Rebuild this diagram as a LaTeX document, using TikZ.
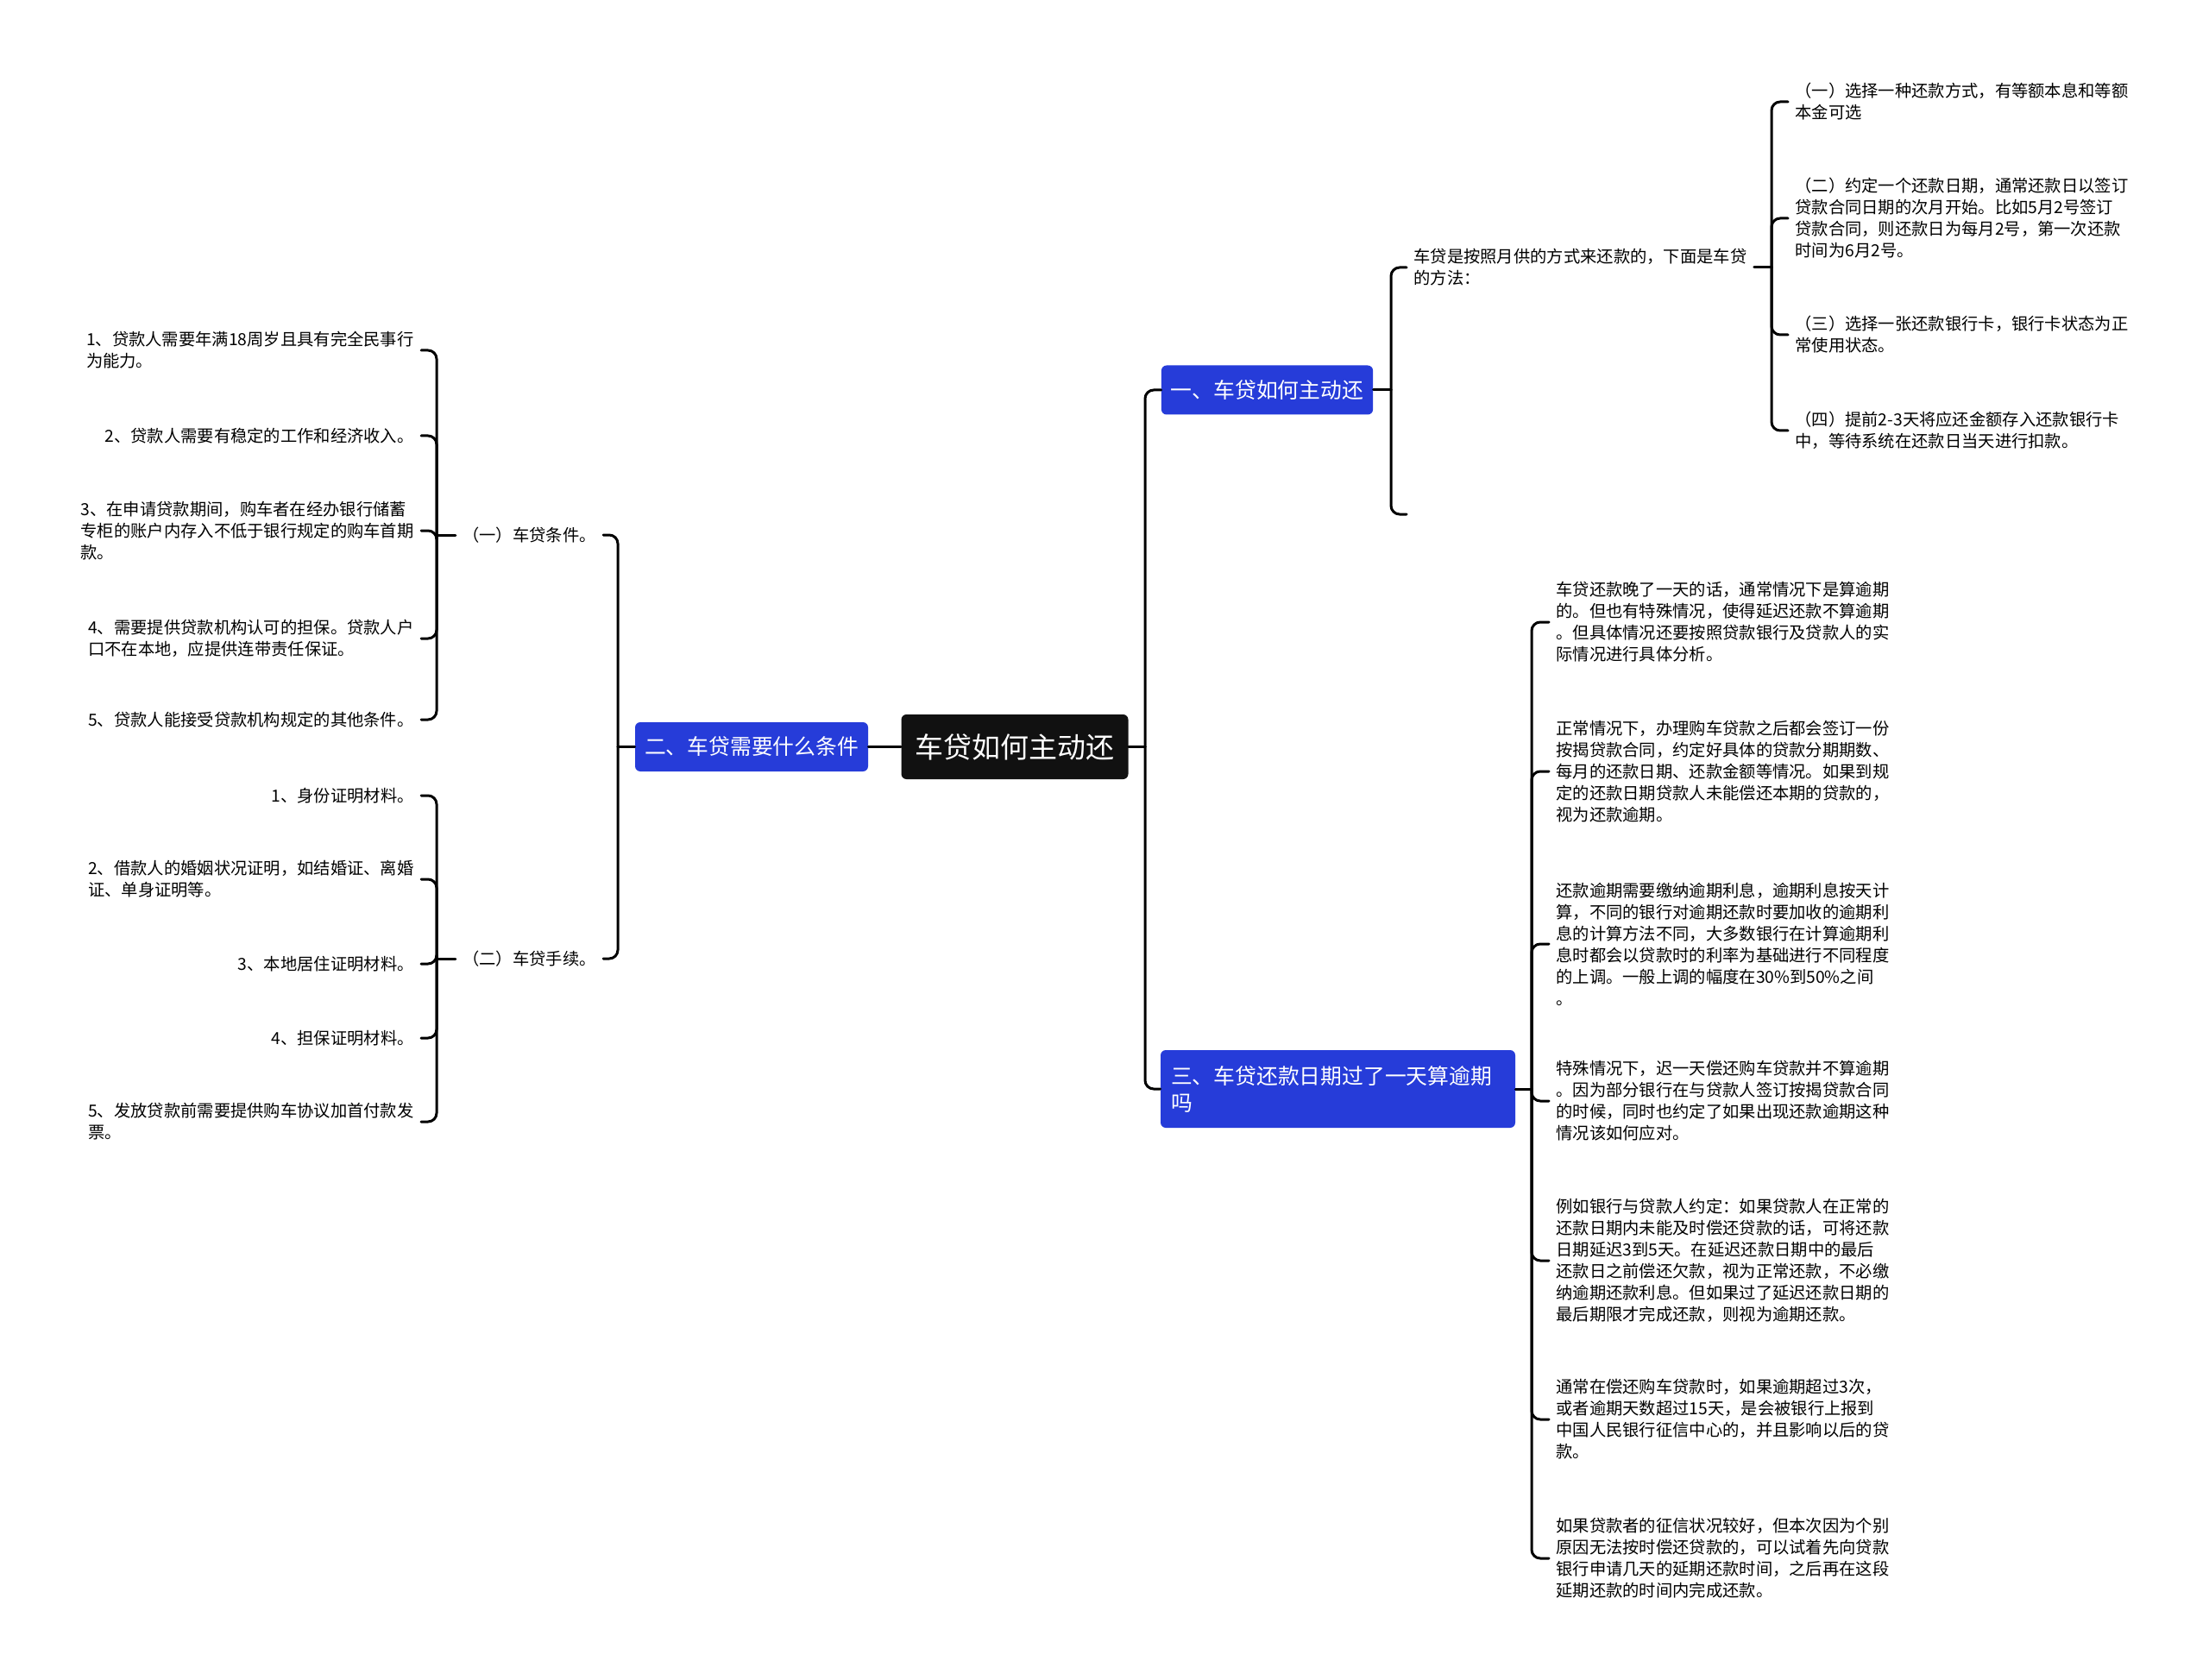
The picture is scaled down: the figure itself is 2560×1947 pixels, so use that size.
\documentclass[tikz,border=0pt]{standalone}
\usepackage{fontspec}
\newfontfamily\cjk{Noto Sans CJK SC}
\usetikzlibrary{positioning}
\usepackage{xcolor}
\definecolor{mapblue}{RGB}{38,60,217}
\definecolor{mapblack}{RGB}{17,17,17}
\tikzset{
  rootbox/.style={fill=mapblack, text=white, rounded corners=3pt, minimum height=37.5pt,
    inner xsep=8pt, font=\cjk\fontsize{16.5pt}{20pt}\selectfont},
  topicbox/.style={fill=mapblue, text=white, rounded corners=3pt, minimum height=28.5pt,
    inner xsep=5.5pt, font=\cjk\fontsize{12.4pt}{15.5pt}\selectfont},
  leaf/.style={align=left, inner xsep=4pt, inner ysep=2pt, font=\cjk\fontsize{9.65pt}{12.5pt}\selectfont},
  wire/.style={line width=1.5pt, line cap=round},
  elbow/.style={wire, rounded corners=5pt},
}

\begin{document}
\begin{tikzpicture}[x=0.5pt, y=-0.5pt]
  \fill[white] (0,0) rectangle (2560,1947);
  \useasboundingbox (0,0) rectangle (2560,1947);

  % centro e os tres ramos (coordenadas em pixels da imagem)
  \node[rootbox] (root) at (1176,865.5) {车贷如何主动还};
  \node[topicbox] (b1) at (1468.5,452) {一、车贷如何主动还};
  \node[topicbox] (b2) at (871,865.5) {二、车贷需要什么条件};
  \node[topicbox, text width=193.5pt, inner xsep=6pt, minimum height=45pt, align=left]
    (b3) at (1550.5,1262) {三、车贷还款日期过了一天算逾期\\吗};

  \coordinate (j0) at (1327,865.5);
  \draw[wire] (root.east) -- (j0);
  \draw[elbow] (j0) |- (b1.west);
  \draw[elbow] (j0) |- (b3.west);
  \draw[wire] (root.west) -- (b2.east);

  % ramo 1
  \coordinate (j1) at (1612,452);
  \coordinate (s1e) at (1630,596);
  \node[leaf, anchor=west] (s1) at (1630,310) {车贷是按照月供的方式来还款的，下面是车贷\\的方法：};
  \draw[wire] (b1.east) -- (j1);
  \draw[elbow] (j1) |- (s1.west);
  \draw[elbow] (j1) |- (s1e);
  \coordinate (j2) at (2053,310);
  \draw[wire] (s1.east) -- (j2);
  \foreach \yy/\nm/\txt in {
    118/c1/{（一）选择一种还款方式，有等额本息和等额\\本金可选},
    253/c2/{（二）约定一个还款日期，通常还款日以签订\\贷款合同日期的次月开始。比如5月2号签订\\贷款合同，则还款日为每月2号，第一次还款\\时间为6月2号。},
    388/c3/{（三）选择一张还款银行卡，银行卡状态为正\\常使用状态。},
    499/c4/{（四）提前2-3天将应还金额存入还款银行卡\\中，等待系统在还款日当天进行扣款。}}
  { \node[leaf, anchor=west] (\nm) at (2072,\yy) {\txt};
    \draw[elbow] (j2) |- (\nm.west); }

  % ramo 3
  \coordinate (j3) at (1775,1262);
  \draw[wire] (b3.east) -- (j3);
  \foreach \yy/\nm/\txt in {
    721/t1/{车贷还款晚了一天的话，通常情况下是算逾期\\的。但也有特殊情况，使得延迟还款不算逾期\\。但具体情况还要按照贷款银行及贷款人的实\\际情况进行具体分析。},
    894/t2/{正常情况下，办理购车贷款之后都会签订一份\\按揭贷款合同，约定好具体的贷款分期期数、\\每月的还款日期、还款金额等情况。如果到规\\定的还款日期贷款人未能偿还本期的贷款的，\\视为还款逾期。},
    1094/t3/{还款逾期需要缴纳逾期利息，逾期利息按天计\\算，不同的银行对逾期还款时要加收的逾期利\\息的计算方法不同，大多数银行在计算逾期利\\息时都会以贷款时的利率为基础进行不同程度\\的上调。一般上调的幅度在30\%到50\%之间\\。},
    1276/t4/{特殊情况下，迟一天偿还购车贷款并不算逾期\\。因为部分银行在与贷款人签订按揭贷款合同\\的时候，同时也约定了如果出现还款逾期这种\\情况该如何应对。},
    1461/t5/{例如银行与贷款人约定：如果贷款人在正常的\\还款日期内未能及时偿还贷款的话，可将还款\\日期延迟3到5天。在延迟还款日期中的最后\\还款日之前偿还欠款，视为正常还款，不必缴\\纳逾期还款利息。但如果过了延迟还款日期的\\最后期限才完成还款，则视为逾期还款。},
    1645/t6/{通常在偿还购车贷款时，如果逾期超过3次，\\或者逾期天数超过15天，是会被银行上报到\\中国人民银行征信中心的，并且影响以后的贷\\款。},
    1806/t7/{如果贷款者的征信状况较好，但本次因为个别\\原因无法按时偿还贷款的，可以试着先向贷款\\银行申请几天的延期还款时间，之后再在这段\\延期还款的时间内完成还款。}}
  { \node[leaf, anchor=west] (\nm) at (1795,\yy) {\txt};
    \draw[elbow] (j3) |- (\nm.west); }

  % ramo 2 (lado esquerdo)
  \coordinate (j4) at (716,865.5);
  \draw[wire] (b2.west) -- (j4);
  \node[leaf, anchor=east] (p1) at (699,620) {（一）车贷条件。};
  \node[leaf, anchor=east] (p2) at (699,1111) {（二）车贷手续。};
  \draw[elbow] (j4) |- (p1.east);
  \draw[elbow] (j4) |- (p2.east);
  \coordinate (j5) at (506,620);
  \coordinate (j6) at (506,1111);
  \draw[wire] (p1.west) -- (j5);
  \draw[wire] (p2.west) -- (j6);
  \foreach \yy/\nm/\txt in {
    406/l1/{1、贷款人需要年满18周岁且具有完全民事行\\为能力。},
    505/l2/{2、贷款人需要有稳定的工作和经济收入。},
    615/l3/{3、在申请贷款期间，购车者在经办银行储蓄\\专柜的账户内存入不低于银行规定的购车首期\\款。},
    740/l4/{4、需要提供贷款机构认可的担保。贷款人户\\口不在本地，应提供连带责任保证。},
    834/l5/{5、贷款人能接受贷款机构规定的其他条件。}}
  { \node[leaf, anchor=east] (\nm) at (488,\yy) {\txt};
    \draw[elbow] (j5) |- (\nm.east); }
  \foreach \yy/\nm/\txt in {
    922/m1/{1、身份证明材料。},
    1019/m2/{2、借款人的婚姻状况证明，如结婚证、离婚\\证、单身证明等。},
    1117/m3/{3、本地居住证明材料。},
    1203/m4/{4、担保证明材料。},
    1300/m5/{5、发放贷款前需要提供购车协议加首付款发\\票。}}
  { \node[leaf, anchor=east] (\nm) at (488,\yy) {\txt};
    \draw[elbow] (j6) |- (\nm.east); }
\end{tikzpicture}
\end{document}
